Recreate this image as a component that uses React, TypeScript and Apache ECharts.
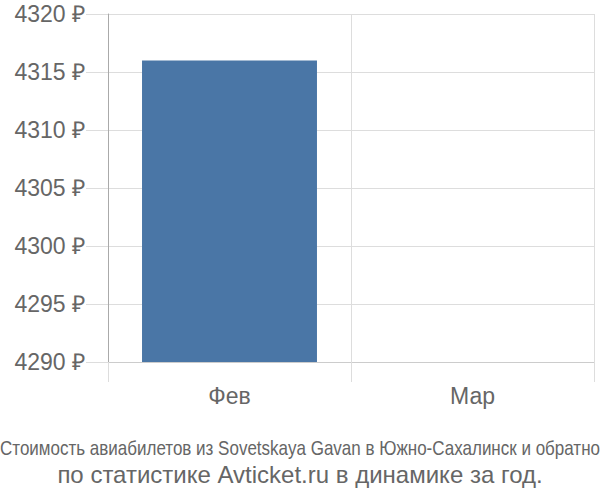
import React, { useEffect, useRef } from "react";
import * as echarts from "echarts";

const categories: string[] = ["Фев", "Мар"];
const prices: (number | null)[] = [4316, null];
const yMin = 4290;
const yMax = 4320;
const yStep = 5;
const titleLine1 = "Стоимость авиабилетов из Sovetskaya Gavan в Южно-Сахалинск и обратно";
const titleLine2 = "по статистике Avticket.ru в динамике за год.";

export default function App() {
  const ref = useRef<HTMLDivElement>(null);

  useEffect(() => {
    if (!ref.current) return;
    const chart = echarts.init(ref.current, undefined, { renderer: "svg" });
    const font = "'Liberation Sans', Arial, sans-serif";
    chart.setOption({
      animation: false,
      grid: { left: 108, right: 6, top: 14, bottom: 138, containLabel: false },
      xAxis: {
        type: "category",
        data: categories,
        boundaryGap: true,
        axisLine: { show: true, lineStyle: { color: "#cccccc", width: 1 } },
        axisTick: { show: true, length: 20, lineStyle: { color: "#dddddd" } },
        splitLine: { show: true, lineStyle: { color: "#dddddd", width: 1 } },
        axisLabel: { color: "#666666", fontSize: 23, fontFamily: font, margin: 22 },
      },
      yAxis: {
        type: "value",
        min: yMin,
        max: yMax,
        interval: yStep,
        axisLine: { show: true, lineStyle: { color: "#aaaaaa", width: 1 } },
        axisTick: { show: true, length: 22, lineStyle: { color: "#dddddd" } },
        splitLine: { show: true, lineStyle: { color: "#dddddd", width: 1 } },
        axisLabel: {
          color: "#666666",
          fontSize: 23,
          fontFamily: font,
          margin: 23,
          formatter: (v: number) => `${v} ₽`,
        },
      },
      series: [
        {
          type: "bar",
          data: prices,
          barWidth: "72%",
          itemStyle: { color: "#4a76a6" },
        },
      ],
      graphic: [
        {
          type: "line",
          shape: { x1: 108.5, y1: 362, x2: 108.5, y2: 381 },
          style: { stroke: "#aaaaaa", lineWidth: 1 },
        },
        {
          type: "text",
          x: 300,
          y: 448,
          scaleX: 0.81,
          originX: 0,
          style: {
            text: titleLine1,
            fill: "#666666",
            font: `21px ${font}`,
            textAlign: "center",
            textVerticalAlign: "middle",
          },
        },
        {
          type: "text",
          x: 300,
          y: 474,
          style: {
            text: titleLine2,
            fill: "#666666",
            font: `24px ${font}`,
            textAlign: "center",
            textVerticalAlign: "middle",
          },
        },
      ],
    });
    return () => chart.dispose();
  }, []);

  return (
    <div
      ref={ref}
      style={{ position: "absolute", left: 0, top: 0, width: 600, height: 500 }}
    />
  );
}
